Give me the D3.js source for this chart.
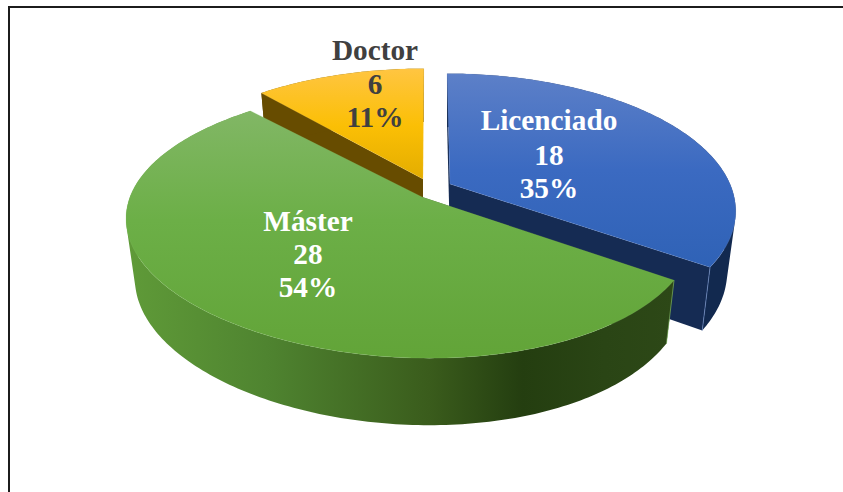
<!DOCTYPE html>
<html><head><meta charset="utf-8">
<style>html,body{margin:0;padding:0;background:#fff}svg{display:block}</style>
<script src="https://cdn.jsdelivr.net/npm/d3@7"></script></head>
<body><svg id="c" width="843" height="492"></svg>
<script>
const categories = ["Licenciado", "Máster", "Doctor"];
const counts = [18, 28, 6];
const percents = ["35%", "54%", "11%"];

const W = 843, H = 492;
const persp = 0.187, ry = 131, depth = 59, kx = 0.97, ky = 1.05;
const pieces = [
  {cx:450, cy:184, rx:280, d:0,   s:-3.5, top:["#5D80C8","#3B6AC1","#2F62B6"], side:"#12294F", cut:"#152B53", rim:"#7C9BD8", text:"#fff", lx:549, ly:[130,165,198], walls:[true,true]},
  {cx:422, cy:197, rx:279.7, d:12.3, s:-6,  top:["#82B766","#6CAF47","#62A438"], side:"url(#gw)", cut:"#2C4716", rim:"#8CC46E", text:"#fff", lx:308, ly:[231,264,297], walls:[true,false]},
  {cx:423, cy:179, rx:279, d:0,   s:1,    top:["#FFC540","#FBBF05","#E2AC00"], side:"#674C00", cut:"#674C00", rim:"#FFD25E", text:"#404040", lx:375, ly:[60,94,127], walls:[true,false]}
];

const svg = d3.select("#c");
const defs = svg.append("defs");

const arcs = d3.pie().sort(null).startAngle(0).endAngle(2*Math.PI)(counts);

function project(angle, r, p, bottom) {
  const u = r*Math.sin(angle), v = r*Math.cos(angle), f = 1/(1+persp*v);
  return [p.cx + ((p.rx - p.d*u)*u + p.s*v)*f*(bottom?kx:1),
          p.cy - ry*v*f*(bottom?ky:1) + (bottom?depth:0)];
}
const line = d3.line().curve(d3.curveLinear);
function sweep(a0, a1, p, bottom) {
  const n = Math.max(8, Math.ceil(Math.abs(a1-a0)*60));
  return d3.range(n+1).map(i => project(a0+(a1-a0)*i/n, 1, p, bottom));
}

// gradients
pieces.forEach((p,i)=>{
  const g = defs.append("linearGradient").attr("id","t"+i).attr("gradientUnits","userSpaceOnUse")
    .attr("x1",0).attr("x2",0)
    .attr("y1", i===0?72: i===1?108:70).attr("y2", i===0?268: i===1?358:182);
  [[0,p.top[0]],[i===1?0.45:0.5,p.top[1]],[1,p.top[2]]].forEach(s=>g.append("stop").attr("offset",s[0]).attr("stop-color",s[1]));
});
const gw = defs.append("linearGradient").attr("id","gw").attr("gradientUnits","userSpaceOnUse")
  .attr("x1",130).attr("x2",675).attr("y1",0).attr("y2",0);
[[0,"#5F9A38"],[0.25,"#4F8430"],[0.55,"#3A5C1C"],[0.72,"#243E10"],[0.87,"#2A4515"],[1,"#2D4817"]]
  .forEach(s=>gw.append("stop").attr("offset",s[0]).attr("stop-color",s[1]));

// frame
svg.append("rect").attr("x",8).attr("y",6).attr("width",W-8).attr("height",2).attr("fill","#1c1c1c");
svg.append("rect").attr("x",8).attr("y",6).attr("width",2).attr("height",H-6).attr("fill","#1c1c1c");

function drawSlice(i) {
  const p = pieces[i], a0 = arcs[i].startAngle, a1 = arcs[i].endAngle;
  const g = svg.append("g").attr("class","slice");
  const cutAt = a => [project(a,0,p,false), project(a,1,p,false), project(a,1,p,true), project(a,0,p,true)];
  // cut walls
  if (p.walls[0]) g.append("path").attr("d", line(cutAt(a0))+"Z").attr("fill",p.cut);
  if (p.walls[1]) g.append("path").attr("d", line(cutAt(a1))+"Z").attr("fill",p.cut);
  // outer wall: ruled quads, all wound the same way, in ONE path so there are no seams
  const up = sweep(a0,a1,p,false), lo = sweep(a0,a1,p,true);
  const quads = d3.range(up.length-1).map(k => {
    const q = [up[k],up[k+1],lo[k+1],lo[k]];
    if (d3.polygonArea(q) < 0) q.reverse();
    return line(q)+"Z";
  }).join("");
  g.append("path").attr("d", quads).attr("fill",p.side);
  // thin light edge on the exposed vertical corner
  if (i<2) {
    const ca = i===0 ? a1 : a0;
    g.append("path").attr("d", line([project(ca,1,p,false), project(ca,1,p,true)]))
      .attr("stroke",p.rim).attr("stroke-width",1).attr("fill","none").attr("opacity",.6);
  }
  // top face
  const top = [project(a0,0,p,false)].concat(up);
  g.append("path").attr("d", line(top)+"Z").attr("fill","url(#t"+i+")")
    .attr("stroke",p.rim).attr("stroke-width",.6).attr("stroke-opacity",.35).attr("stroke-linejoin","round");
}
[2,0,1].forEach(drawSlice);

// labels
categories.forEach((c,i)=>{
  const p = pieces[i];
  const rows = [c, String(counts[i]), percents[i]];
  svg.append("g").selectAll("text").data(rows).join("text")
    .attr("x",p.lx).attr("y",(d,j)=>p.ly[j])
    .attr("text-anchor","middle")
    .attr("font-family","'Liberation Serif','Times New Roman',serif")
    .attr("font-weight","bold").attr("font-size",29.3)
    .attr("fill",p.text).text(d=>d);
});
</script></body></html>
